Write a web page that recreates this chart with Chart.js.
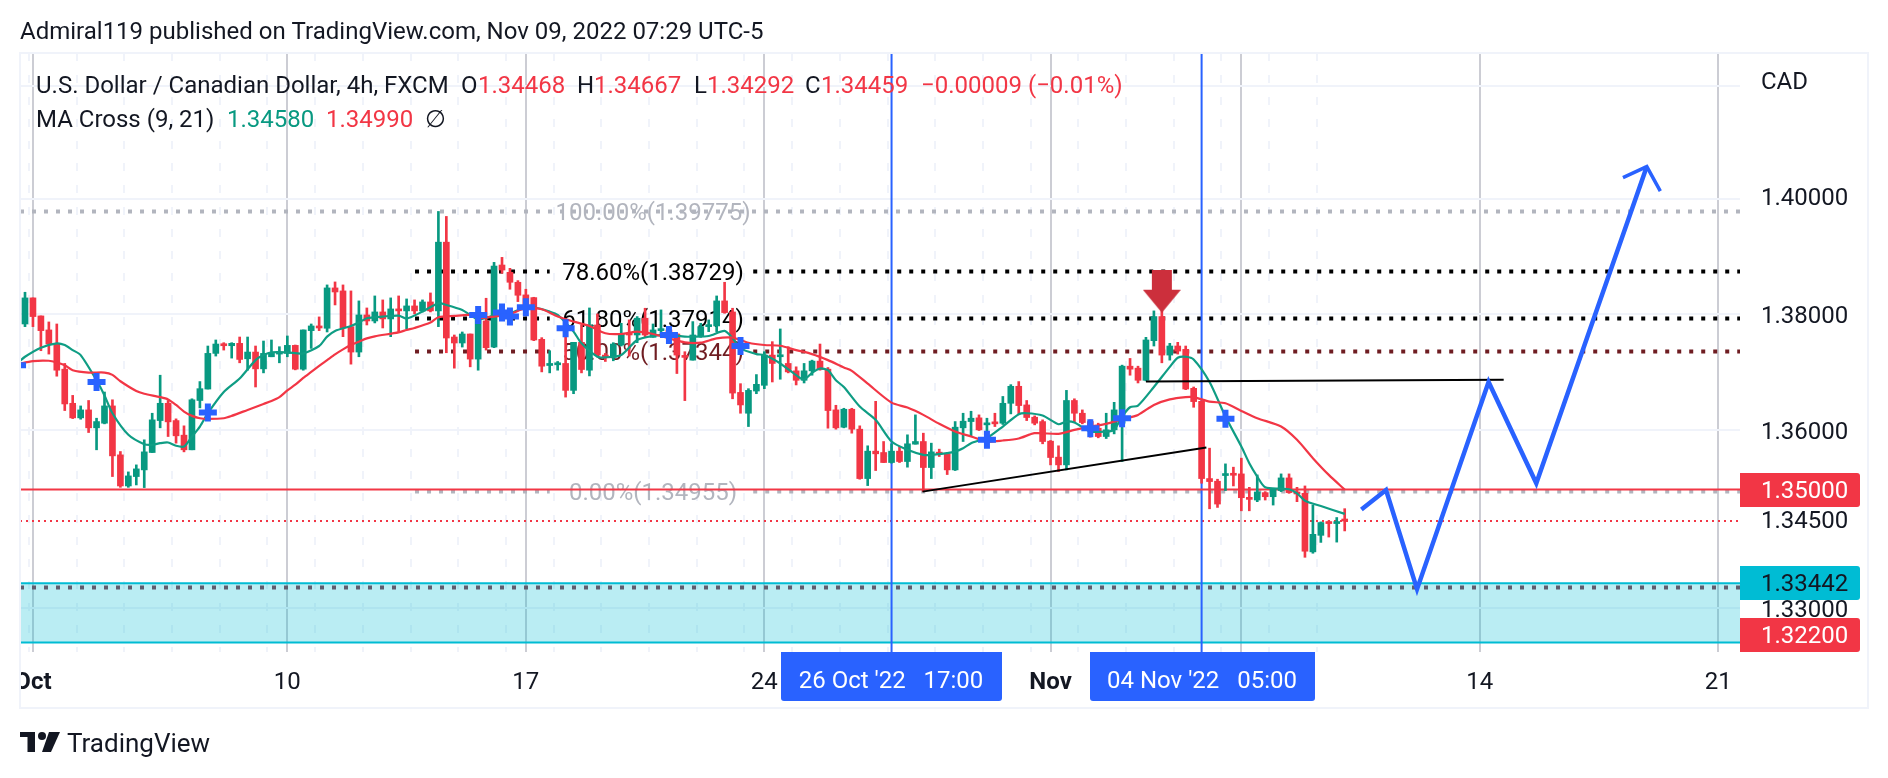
<!DOCTYPE html>
<html><head><meta charset="utf-8">
<style>html,body{margin:0;padding:0;background:#fff}canvas{display:block}</style>
<script src="https://cdn.jsdelivr.net/npm/chart.js@4/dist/chart.umd.js"></script>
</head><body><canvas id="c" width="1888" height="778"></canvas>
<script>
const opens=[1.37820,1.38271,1.37959,1.37717,1.37486,1.37042,1.36457,1.36208,1.36344,1.36038,1.36117,1.36412,1.35578,1.35051,1.35210,1.35323,1.35618,1.36162,1.36457,1.36162,1.35913,1.35664,1.36505,1.36701,1.37313,1.37474,1.37445,1.37486,1.37220,1.37336,1.37047,1.37255,1.37301,1.37313,1.37451,1.37042,1.37705,1.37786,1.37746,1.38444,1.38392,1.37774,1.37336,1.37976,1.37872,1.38028,1.37907,1.38080,1.38046,1.38132,1.38046,1.38201,1.38046,1.39240,1.37595,1.37492,1.37647,1.37215,
1.37872,1.37422,1.38842,1.38715,1.38542,1.38323,1.38276,1.37555,1.37105,1.37117,1.37140,1.36678,1.37503,1.37024,1.37803,1.37284,1.37244,1.37457,1.37659,1.37630,1.37919,1.37590,1.37705,1.37717,1.37647,1.37267,1.37197,1.37601,1.37774,1.37786,1.38219,1.38028,1.36643,1.36287,1.36667,1.36765,1.37284,1.37255,1.37140,1.37013,1.36851,1.37013,1.37180,1.37042,1.36344,1.36049,1.36355,1.36015,1.35176,1.35641,1.35618,1.35448,1.35641,1.35465,1.35760,1.35805,1.35363,1.35618,1.35596,1.35323,
1.36038,1.36145,1.36208,1.36089,1.36128,1.36117,1.36457,1.36748,1.36429,1.36219,1.36145,1.35811,1.35539,1.35408,1.36505,1.36287,1.36145,1.36032,1.35890,1.36004,1.36117,1.37093,1.37059,1.36851,1.37532,1.37948,1.37284,1.37440,1.37382,1.36713,1.36491,1.35176,1.35131,1.35227,1.35255,1.35255,1.34858,1.34813,1.34938,1.34869,1.34973,1.35187,1.34949,1.34926,1.33940,1.34218,1.34439,1.34416,1.34468];
const highs=[1.38369,1.38271,1.37959,1.37855,1.37820,1.37140,1.36592,1.36412,1.36505,1.36202,1.36650,1.36517,1.35635,1.35289,1.35408,1.35834,1.36287,1.36938,1.36505,1.36191,1.36072,1.36534,1.36829,1.37440,1.37544,1.37497,1.37497,1.37595,1.37595,1.37440,1.37526,1.37544,1.37428,1.37613,1.37457,1.37717,1.37820,1.37942,1.38496,1.38548,1.38496,1.38392,1.38219,1.38097,1.38305,1.38236,1.38271,1.38305,1.38253,1.38236,1.38236,1.38357,1.39777,1.39690,1.37630,1.37682,1.37647,1.37924,
1.38265,1.38888,1.38975,1.38784,1.38571,1.38421,1.38282,1.37584,1.37359,1.37174,1.37890,1.37503,1.37803,1.38097,1.37994,1.37313,1.37497,1.37832,1.37890,1.37948,1.38092,1.37820,1.38063,1.37746,1.37659,1.37342,1.37861,1.37832,1.37890,1.38305,1.38542,1.38092,1.36793,1.36707,1.36949,1.37342,1.37515,1.37734,1.37428,1.37082,1.37140,1.37197,1.37474,1.37070,1.36423,1.36372,1.36372,1.36072,1.35732,1.36491,1.35805,1.35766,1.35720,1.35919,1.36259,1.35947,1.35777,1.35675,1.35618,1.36145,
1.36287,1.36321,1.36259,1.36202,1.36287,1.36574,1.36776,1.36829,1.36505,1.36242,1.36174,1.35822,1.35732,1.36678,1.36534,1.36344,1.36174,1.36117,1.36287,1.36474,1.37111,1.37226,1.37093,1.37590,1.38046,1.38063,1.37486,1.37503,1.37440,1.36736,1.36503,1.35692,1.35165,1.35425,1.35369,1.35522,1.35028,1.35238,1.34955,1.35011,1.35255,1.35255,1.35028,1.35051,1.34728,1.34444,1.34461,1.34518,1.34667];
const lows=[1.37774,1.37774,1.37359,1.37301,1.36921,1.36333,1.36196,1.36185,1.35958,1.35664,1.36106,1.35210,1.35028,1.35028,1.35068,1.35023,1.35618,1.36038,1.35890,1.35777,1.35629,1.35664,1.36378,1.36701,1.37267,1.37370,1.37232,1.37151,1.37024,1.36736,1.36978,1.37255,1.37151,1.37255,1.37030,1.37024,1.37399,1.37705,1.37682,1.38149,1.37601,1.37128,1.37255,1.37803,1.37838,1.37751,1.37601,1.37682,1.37734,1.37994,1.38028,1.38028,1.37774,1.37324,1.37059,1.37422,1.37082,1.37024,
1.37370,1.37411,1.38698,1.38421,1.38207,1.38063,1.37532,1.36995,1.36978,1.37024,1.36563,1.36621,1.36978,1.36926,1.37255,1.37174,1.37186,1.37440,1.37267,1.37497,1.37601,1.37590,1.37630,1.37486,1.36967,1.36503,1.37197,1.37590,1.37688,1.37688,1.38005,1.36534,1.36287,1.36060,1.36621,1.36707,1.36822,1.36869,1.36978,1.36771,1.36805,1.36938,1.37024,1.36032,1.36015,1.36038,1.35947,1.35165,1.35057,1.35312,1.35448,1.35437,1.35448,1.35369,1.35760,1.34955,1.35176,1.35550,1.35244,1.35312,
1.35805,1.35890,1.35992,1.35845,1.36060,1.36095,1.36276,1.36265,1.36162,1.36089,1.35766,1.35408,1.35295,1.35323,1.36140,1.36106,1.35879,1.35868,1.35856,1.35935,1.35465,1.36938,1.36805,1.36840,1.37440,1.37151,1.37197,1.37301,1.36690,1.36389,1.35097,1.34665,1.34688,1.34973,1.35051,1.34631,1.34631,1.34785,1.34813,1.34728,1.34955,1.34926,1.34785,1.33849,1.33917,1.34099,1.34189,1.34104,1.34292];
const closes=[1.38271,1.37948,1.37705,1.37474,1.37024,1.36446,1.36208,1.36344,1.36038,1.36145,1.36412,1.35561,1.35051,1.35221,1.35340,1.35629,1.36174,1.36457,1.36140,1.35902,1.35664,1.36517,1.36707,1.37313,1.37474,1.37445,1.37486,1.37209,1.37336,1.37047,1.37313,1.37313,1.37336,1.37451,1.37042,1.37717,1.37786,1.37751,1.38444,1.38374,1.37751,1.37336,1.37976,1.37872,1.38028,1.37907,1.38080,1.38046,1.38132,1.38046,1.38201,1.38046,1.39240,1.37578,1.37492,1.37647,1.37215,1.37924,
1.37411,1.38824,1.38755,1.38542,1.38317,1.38092,1.37544,1.37093,1.37140,1.37140,1.36678,1.37503,1.37036,1.37803,1.37284,1.37244,1.37474,1.37659,1.37630,1.37919,1.37630,1.37717,1.37728,1.37630,1.37284,1.37244,1.37630,1.37774,1.37797,1.38219,1.38017,1.36632,1.36429,1.36678,1.36782,1.37284,1.37140,1.37284,1.36995,1.36851,1.37013,1.37180,1.37036,1.36333,1.36038,1.36355,1.36015,1.35176,1.35641,1.35596,1.35448,1.35641,1.35465,1.35766,1.35805,1.35363,1.35629,1.35590,1.35323,1.36049,
1.36151,1.36202,1.36004,1.36117,1.36106,1.36457,1.36748,1.36418,1.36214,1.36117,1.35805,1.35533,1.35408,1.36505,1.36287,1.36128,1.36004,1.35890,1.36004,1.36344,1.37093,1.37042,1.36851,1.37544,1.37948,1.37284,1.37440,1.37353,1.36701,1.36486,1.35176,1.35125,1.34745,1.35255,1.35232,1.34852,1.34824,1.34949,1.34869,1.34994,1.35187,1.34938,1.34915,1.33951,1.34235,1.34433,1.34416,1.34439,1.34459];

const fastIdx=[-1,0,2,4,5,6,7,9,10,11,13,15,16,17,18,19,20,21,22,23,25,27,29,30,31,33,35,37,38,39,41,42,43,45,47,48,50,52,53,55,56,57,59,61,63,64,66,67,69,70,72,73,75,77,79,81,83,84,86,88,89,90,92,93,95,97,98,99,100,101,102,103,105,107,109,111,113,114,116,117,118,119,120,121,123,125,126,128,130,131,132,134,136,137,138,139,140,142,144,145,146,147,149,151,153,154,155,156,158,159,160,161,163,166];
const fastVals=[1.37140,1.37255,1.37411,1.37486,1.37457,1.37370,1.37284,1.36851,1.36592,1.36287,1.35919,1.35760,1.35749,1.35777,1.35788,1.35732,1.35720,1.35890,1.36060,1.36287,1.36650,1.36880,1.37197,1.37284,1.37330,1.37330,1.37313,1.37440,1.37601,1.37700,1.37786,1.37844,1.37919,1.37948,1.37965,1.37913,1.38034,1.38178,1.38149,1.38063,1.37976,1.37901,1.37965,1.38005,1.38109,1.38109,1.38034,1.37976,1.37688,1.37486,1.37255,1.37244,1.37284,1.37544,1.37613,1.37630,1.37601,1.37601,1.37613,1.37700,1.37572,1.37399,1.37301,1.37284,1.37140,1.36938,1.36863,1.36978,1.37053,1.37024,1.36851,1.36736,1.36401,1.36174,1.35805,1.35664,1.35578,1.35578,1.35607,1.35635,1.35692,1.35777,1.35822,1.35862,1.36060,1.36270,1.36287,1.36248,1.36100,1.36145,1.36128,1.35975,1.35975,1.36004,1.36231,1.36389,1.36418,1.36736,1.37082,1.37238,1.37255,1.37209,1.36822,1.36231,1.35720,1.35437,1.35210,1.35028,1.35006,1.34994,1.34926,1.34801,1.34711,1.34580];
const slowIdx=[-1,1,3,4,5,6,8,10,11,12,14,15,17,18,19,20,21,22,23,25,26,28,30,31,32,33,34,35,36,37,38,39,40,41,42,43,44,47,48,49,51,52,54,56,57,59,61,63,65,67,69,71,73,75,77,79,81,83,85,87,89,91,93,95,97,99,101,103,104,106,109,111,113,115,117,119,121,123,125,127,130,132,134,136,138,140,142,144,146,147,149,151,153,155,158,160,162,164,166];
const slowVals=[1.37128,1.37180,1.37186,1.37157,1.37111,1.37024,1.36984,1.36984,1.36944,1.36834,1.36667,1.36621,1.36563,1.36523,1.36429,1.36316,1.36242,1.36202,1.36191,1.36202,1.36242,1.36344,1.36446,1.36497,1.36563,1.36678,1.36776,1.36892,1.36995,1.37099,1.37197,1.37296,1.37382,1.37457,1.37515,1.37572,1.37607,1.37676,1.37717,1.37751,1.37844,1.37936,1.37959,1.37976,1.37919,1.37948,1.37994,1.38092,1.38074,1.37948,1.37861,1.37786,1.37659,1.37647,1.37688,1.37647,1.37572,1.37503,1.37497,1.37572,1.37584,1.37497,1.37457,1.37445,1.37370,1.37301,1.37197,1.37070,1.37013,1.36793,1.36468,1.36384,1.36259,1.36106,1.35975,1.35890,1.35805,1.35822,1.35856,1.35947,1.35935,1.36004,1.36060,1.36106,1.36185,1.36259,1.36429,1.36523,1.36563,1.36563,1.36486,1.36457,1.36327,1.36202,1.36060,1.35834,1.35522,1.35238,1.34990];

const crossIdx=[-1,9,23,57,60,61,63,68,81,90,121,134,138,151];
const crossVals=[1.37111,1.36822,1.36299,1.37976,1.38017,1.37948,1.38109,1.37746,1.37630,1.37440,1.35834,1.36032,1.36202,1.36191];

const weekTicks=[1,33,63,93,129,153,183,213];
const weekLabels=['Oct','10','17','24','Nov','7','14','21'];
const dayTicks=[0.5,6.5,12.5,18.5,24.5,30.5,36.5,42.5,48.5,54.5,60.5,66.5,72.5,78.5,84.5,90.5,96.5,102.5,108.5,114.5,120.5,126.5,132.5,138.5,144.5,150.5,156.5,162.5];
const priceTicks=[1.42,1.40,1.38,1.36,1.345,1.33];
const priceLabels=['','1.40000','1.38000','1.36000','1.34500','1.33000'];

const fibPrices=[1.39775,1.38729,1.37914,1.37344,1.34955];
const fibLabels=['100.00%(1.39775)','78.60%(1.38729)','61.80%(1.37914)','50.00%(1.37344)','0.00%(1.34955)'];
const fibColors=['#b2b5be','#000000','#000000','#6f1d22','#b2b5be'];
const pathIdx=[168.1,171.2,175.1,184.1,190.1,204];
const pathVals=[1.34654,1.34983,1.33316,1.36822,1.35097,1.40565];
const headIdx=[201,204,205.7];
const headVals=[1.40371,1.40565,1.40133];
const trendA={x:[112.9,148.6],y:[1.34955,1.35705]};
const trendB={x:[141,186],y:[1.36830,1.36860]};
const zoneTop=1.33415, zoneBottom=1.32426, dottedLow=1.33342, resist=1.3499, lastPrice=1.34459;
const blueIdx=[109,148];
const X0=-0.629,X1=215.723,Y0=1.3227,Y1=1.4258;

const GREEN='#089981',RED='#f23645',BLUE='#2962ff',INK='#131722';
const F='Roboto, sans-serif';

const hseg=(x0,x1,y)=>[{x:x0,y},{x:x1,y}];
const fibLine=(i)=>i===0?hseg(X0,X1,fibPrices[0]):[{x:49.06,y:fibPrices[i]},{x:66,y:fibPrices[i]},{x:78,y:null},{x:91.6,y:fibPrices[i]},{x:X1,y:fibPrices[i]}];
const L=(data,color,width,dash,order,extra)=>Object.assign({type:'line',data,borderColor:color,borderWidth:width,borderDash:dash||[],pointRadius:0,order,spanGaps:false,tension:0,fill:false},extra||{});

const arrow=document.createElement('canvas');arrow.width=38;arrow.height=43;
(function(){const a=arrow.getContext('2d');a.fillStyle='#cc2f3c';a.beginPath();a.moveTo(9,0);a.lineTo(29,0);a.lineTo(29,20);a.lineTo(38,20);a.lineTo(19,43);a.lineTo(0,20);a.lineTo(9,20);a.closePath();a.fill();})();

const wicks=closes.map((c,i)=>({x:i,y:[lows[i],highs[i]]}));
const bodies=closes.map((c,i)=>({x:i,y:[Math.min(opens[i],c),Math.max(opens[i],c)]}));
const candleColors=closes.map((c,i)=>c>=opens[i]?GREEN:RED);

const datasets=[
 {type:'bar',data:wicks,backgroundColor:candleColors,maxBarThickness:2,barPercentage:1,categoryPercentage:1,grouped:false,order:6,borderWidth:0},
 {type:'bar',data:bodies,backgroundColor:candleColors,maxBarThickness:6,minBarLength:2,barPercentage:1,categoryPercentage:1,grouped:false,order:5,borderWidth:0},
 L(fastIdx.map((x,i)=>({x,y:fastVals[i]})),'#0f9d84',2.2,[],4,{tension:0.25}),
 L(slowIdx.map((x,i)=>({x,y:slowVals[i]})),RED,2.2,[],3,{tension:0.25}),
 L(crossIdx.map((x,i)=>({x,y:crossVals[i]})),BLUE,0,[],2,{showLine:false,pointStyle:'cross',pointRadius:9,pointBorderWidth:6,pointBorderColor:BLUE}),
 L(hseg(X0,X1,zoneTop),'#00bcd4',2,[],12,{fill:'+1',backgroundColor:'rgba(0,188,212,0.27)'}),
 L(hseg(X0,X1,zoneBottom),'#00bcd4',2,[],12),
 L(hseg(X0,X1,dottedLow),'#5d5d6e',4,[4,8],11),
 L(hseg(X0,X1,lastPrice),RED,2,[2,4],10),
 L(fibLine(0),fibColors[0],4,[4,8],9),
 L(fibLine(1),fibColors[1],4,[4,8],8),
 L(fibLine(2),fibColors[2],4,[4,8],8),
 L(fibLine(3),fibColors[3],4,[4,8],8),
 L(fibLine(4),fibColors[4],4,[4,8],9),
 L(hseg(X0,X1,resist),RED,2,[],7),
 L(blueIdx.slice(0,1).flatMap(x=>[{x,y:Y0},{x,y:Y1}]),BLUE,2,[],7),
 L(blueIdx.slice(1).flatMap(x=>[{x,y:Y0},{x,y:Y1}]),BLUE,2,[],7),
 L(trendA.x.map((x,i)=>({x,y:trendA.y[i]})),'#000',2,[],1.5),
 L(trendB.x.map((x,i)=>({x,y:trendB.y[i]})),'#000',2,[],1.5),
 L(pathIdx.map((x,i)=>({x,y:pathVals[i]})),BLUE,4.5,[],1,{borderJoinStyle:'miter'}),
 L(headIdx.map((x,i)=>({x,y:headVals[i]})),BLUE,3.5,[],1,{borderJoinStyle:'miter'}),
 L([{x:143,y:1.38387}],'#cc2f3c',0,[],1,{showLine:false,pointStyle:arrow,pointRadius:20})
];

function rrect(c,x,y,w,h,r,fill){c.fillStyle=fill;c.beginPath();c.roundRect(x,y,w,h,r);c.fill();}
function fibText(chart){const c=chart.ctx,ys=chart.scales.y;c.save();c.font='24px '+F;c.textAlign='center';c.textBaseline='middle';
 fibLabels.forEach((t,i)=>{c.fillStyle=fibColors[i];c.fillText(t,653,ys.getPixelForValue(fibPrices[i])+2);});c.restore();}
const legendRuns=[['U.S. Dollar / Canadian Dollar, 4h, FXCM',36,INK,87],['O',461,INK,87],['1.34468',478,RED,87],['H',577,INK,87],['1.34667',594,RED,87],['L',694,INK,87],['1.34292',707,RED,87],['C',805,INK,87],['1.34459',821,RED,87],['\u22120.00009 (\u22120.01%)',921,RED,87],
 ['MA Cross (9, 21)',36,INK,121],['1.34580',227,GREEN,121],['1.34990',326,RED,121],['\u2205',425,INK,121]];
const overlay={id:'overlay',
 beforeDatasetsDraw:fibText,
 afterDraw(chart){const c=chart.ctx;c.save();
  c.fillStyle='#fff';c.fillRect(0,655,19,50);
  c.strokeStyle='#f0f3fa';c.lineWidth=2;c.strokeRect(20,53,1848,655);
  c.textBaseline='middle';c.textAlign='left';
  c.font='24px '+F;
  legendRuns.forEach(r=>{c.fillStyle=r[2];c.fillText(r[0],r[1],r[3]);});
  c.fillStyle=INK;c.fillText('Admiral119 published on TradingView.com, Nov 09, 2022 07:29 UTC-5',20,33);
  c.fillText('CAD',1761,83);
  rrect(c,1740,473,120,34,[0,3,3,0],RED);c.fillStyle='#fff';c.fillText('1.35000',1761,492);
  rrect(c,1740,566,120,34,[0,3,3,0],'#00bcd4');c.fillStyle=INK;c.fillText('1.33442',1761,585);
  rrect(c,1740,618,120,34,[0,3,3,0],RED);c.fillStyle='#fff';c.fillText('1.32200',1761,637);
  rrect(c,781,652,221,49,[0,0,3,3],BLUE);c.fillStyle='#fff';c.textAlign='center';c.fillText("26 Oct '22   17:00",891,682);
  rrect(c,1090,652,225,49,[0,0,3,3],BLUE);c.fillStyle='#fff';c.fillText("04 Nov '22   05:00",1202,682);
  c.textAlign='left';c.fillStyle=INK;c.font='26px '+F;c.fillText('TradingView',67,745);
  c.fillStyle='#131722';
  c.fillRect(20,732,15,5);c.fillRect(27.5,732,7.5,20);
  c.beginPath();c.arc(42,736,4,0,Math.PI*2);c.fill();
  c.beginPath();c.moveTo(49,732);c.lineTo(60,732);c.lineTo(51,752);c.lineTo(42,752);c.closePath();c.fill();
  c.restore();}
};

new Chart(document.getElementById('c'),{
 type:'bar',
 data:{datasets},
 plugins:[overlay],
 options:{responsive:false,animation:false,events:[],
  layout:{padding:{left:20,top:53,right:21,bottom:70}},
  plugins:{legend:{display:false},tooltip:{enabled:false},title:{display:false}},
  scales:{
   x:{type:'linear',offset:false,min:X0,max:X1,bounds:'data',
    grid:{offset:false,drawTicks:false,lineWidth:2,color:ctx=>ctx.tick&&weekTicks.includes(ctx.tick.value)?'#cccdd4':'#f0f3fa'},
    border:{display:false,dash:ctx=>ctx.tick&&weekTicks.includes(ctx.tick.value)?[]:[8,14]},
    afterBuildTicks:s=>{s.ticks=dayTicks.concat(weekTicks).map(value=>({value}));},
    afterFit:s=>{s.height=56;},
    ticks:{autoSkip:false,maxRotation:0,padding:17,color:INK,
     callback:v=>{const k=weekTicks.indexOf(v);return k<0?'':weekLabels[k];},
     font:ctx=>{const v=ctx.tick&&ctx.tick.value;return {family:F,size:24,weight:(v===1||v===129)?'700':'400'};}}},
   y:{type:'logarithmic',position:'right',min:Y0,max:Y1,bounds:'data',
    grid:{drawTicks:false,lineWidth:2,color:ctx=>ctx.tick&&ctx.tick.value===1.345?'rgba(0,0,0,0)':'#f0f3fa'},
    border:{display:false},
    afterBuildTicks:s=>{s.ticks=priceTicks.map(value=>({value}));},
    afterFit:s=>{s.width=127;},
    afterUpdate:s=>{const base=s._computeLabelItems.bind(s);s._computeLabelItems=a=>{const items=base(a);items.forEach(it=>{const d=it.label==='1.40000'?0:1.5;it.options.translation=[it.options.translation[0],it.options.translation[1]+d];});return items;};s._labelItems=null;},
    ticks:{autoSkip:false,padding:21,color:INK,font:{family:F,size:24},
     callback:v=>{const k=priceTicks.indexOf(v);return k<0?'':priceLabels[k];}}}
  }
 }
});
</script></body></html>
